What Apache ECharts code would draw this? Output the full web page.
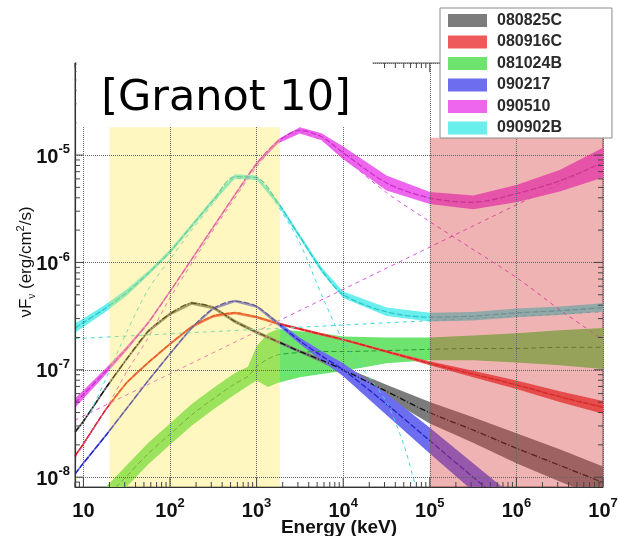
<!DOCTYPE html>
<html><head><meta charset="utf-8">
<script src="https://cdn.jsdelivr.net/npm/echarts@6/dist/echarts.min.js"></script>
<style>html,body{margin:0;padding:0;background:#fff}#c{width:618px;height:536px}</style>
</head><body><div id="c"></div>
<script>
// ---- Energy grid (keV) shared by most curves ----
const energy = [8, 10, 17.8, 31.6, 56.2, 100, 178, 316, 562, 1000, 1780, 3160, 5620, 1e4, 3.16e4, 1e5, 3.16e5, 1e6, 3.16e6, 1e7];

// 080825C (nuFnu, erg/cm^2/s)
const f080825C  = [2.63e-8, 3.31e-8, 6.61e-8, 1.26e-7, 2.29e-7, 3.31e-7, 4.17e-7, 3.80e-7, 2.82e-7, 2.24e-7, 1.82e-7, 1.48e-7, 1.23e-7, 1.00e-7, 6.31e-8, 3.98e-8, 2.75e-8, 1.86e-8, 1.29e-8, 8.91e-9];
const lo080825C = [2.54e-8, 3.20e-8, 6.39e-8, 1.22e-7, 2.21e-7, 3.20e-7, 4.03e-7, 3.67e-7, 2.72e-7, 2.16e-7, 1.76e-7, 1.43e-7, 1.17e-7, 9.33e-8, 5.50e-8, 3.16e-8, 2.09e-8, 1.35e-8, 9.12e-9, 6.31e-9];
const hi080825C = [2.72e-8, 3.43e-8, 6.84e-8, 1.30e-7, 2.37e-7, 3.43e-7, 4.32e-7, 3.93e-7, 2.92e-7, 2.32e-7, 1.88e-7, 1.53e-7, 1.29e-7, 1.07e-7, 7.24e-8, 5.01e-8, 3.62e-8, 2.57e-8, 1.82e-8, 1.26e-8];

// 080916C
const f080916C  = [1.58e-8, 2.04e-8, 4.17e-8, 7.59e-8, 1.17e-7, 1.74e-7, 2.51e-7, 3.16e-7, 3.39e-7, 3.09e-7, 2.69e-7, 2.40e-7, 2.14e-7, 1.91e-7, 1.48e-7, 1.15e-7, 9.12e-8, 7.24e-8, 5.62e-8, 4.47e-8];
const lo080916C = [1.54e-8, 1.98e-8, 4.06e-8, 7.38e-8, 1.14e-7, 1.69e-7, 2.44e-7, 3.07e-7, 3.30e-7, 3.01e-7, 2.62e-7, 2.33e-7, 2.08e-7, 1.86e-7, 1.44e-7, 1.10e-7, 8.51e-8, 6.61e-8, 5.01e-8, 3.89e-8];
const hi080916C = [1.62e-8, 2.10e-8, 4.29e-8, 7.80e-8, 1.20e-7, 1.79e-7, 2.58e-7, 3.25e-7, 3.48e-7, 3.18e-7, 2.77e-7, 2.47e-7, 2.20e-7, 1.96e-7, 1.52e-7, 1.20e-7, 9.78e-8, 7.94e-8, 6.31e-8, 5.13e-8];

// 081024B (own energy grid)
const e081024B  = [17.8, 31.6, 56.2, 100, 178, 316, 562, 794, 1000, 1350, 1780, 3160, 5620, 1e4, 3.16e4, 1e5, 3.16e5, 1e6, 3.16e6, 1e7];
const f081024B  = [6.31e-9, 1.02e-8, 1.66e-8, 2.51e-8, 3.80e-8, 5.37e-8, 7.41e-8, 8.71e-8, 1.07e-7, 1.26e-7, 1.38e-7, 1.45e-7, 1.48e-7, 1.48e-7, 1.51e-7, 1.55e-7, 1.58e-7, 1.58e-7, 1.62e-7, 1.62e-7];
const lo081024B = [5.01e-9, 8.13e-9, 1.32e-8, 2.00e-8, 3.02e-8, 4.27e-8, 5.89e-8, 7.08e-8, 7.94e-8, 6.92e-8, 7.59e-8, 8.51e-8, 9.12e-8, 9.77e-8, 1.15e-7, 1.23e-7, 1.23e-7, 1.17e-7, 1.10e-7, 1.02e-7];
const hi081024B = [7.94e-9, 1.29e-8, 2.09e-8, 3.16e-8, 4.79e-8, 6.76e-8, 9.33e-8, 1.07e-7, 1.66e-7, 2.19e-7, 2.40e-7, 2.29e-7, 2.19e-7, 2.04e-7, 2.00e-7, 2.00e-7, 2.09e-7, 2.19e-7, 2.34e-7, 2.45e-7];

// 090217
const f090217  = [1.07e-8, 1.35e-8, 2.40e-8, 4.37e-8, 7.94e-8, 1.41e-7, 2.45e-7, 3.72e-7, 4.37e-7, 3.89e-7, 2.69e-7, 1.86e-7, 1.35e-7, 1.00e-7, 4.79e-8, 2.19e-8, 1.00e-8, 4.68e-9, null, null];
const lo090217 = [1.04e-8, 1.31e-8, 2.33e-8, 4.25e-8, 7.72e-8, 1.37e-7, 2.38e-7, 3.62e-7, 4.25e-7, 3.78e-7, 2.57e-7, 1.74e-7, 1.22e-7, 8.71e-8, 3.80e-8, 1.66e-8, 7.41e-9, 3.47e-9, null, null];
const hi090217 = [1.10e-8, 1.39e-8, 2.47e-8, 4.49e-8, 8.16e-8, 1.45e-7, 2.52e-7, 3.82e-7, 4.49e-7, 4.00e-7, 2.82e-7, 1.99e-7, 1.50e-7, 1.15e-7, 6.03e-8, 2.88e-8, 1.35e-8, 6.31e-9, null, null];

// 090510
const f090510  = [4.90e-8, 5.89e-8, 9.55e-8, 1.58e-7, 2.75e-7, 5.37e-7, 1.07e-6, 2.14e-6, 4.27e-6, 8.32e-6, 1.35e-5, 1.70e-5, 1.48e-5, 1.05e-5, 5.50e-6, 3.98e-6, 3.63e-6, 4.37e-6, 5.75e-6, 8.51e-6];
const lo090510 = [4.42e-8, 5.37e-8, 8.91e-8, 1.51e-7, 2.68e-7, 5.22e-7, 1.04e-6, 2.08e-6, 4.15e-6, 8.04e-6, 1.29e-5, 1.59e-5, 1.37e-5, 9.12e-6, 4.68e-6, 3.51e-6, 3.13e-6, 3.64e-6, 4.57e-6, 6.17e-6];
const hi090510 = [5.43e-8, 6.46e-8, 1.02e-7, 1.65e-7, 2.83e-7, 5.52e-7, 1.10e-6, 2.20e-6, 4.39e-6, 8.61e-6, 1.41e-5, 1.82e-5, 1.60e-5, 1.20e-5, 6.46e-6, 4.52e-6, 4.21e-6, 5.25e-6, 7.24e-6, 1.17e-5];
const band090510 = [1.51e-8, 2.00e-8, 4.17e-8, 9.55e-8, 2.00e-7, 4.68e-7, 9.77e-7, 2.00e-6, 3.98e-6, 7.76e-6, 1.29e-5, 1.62e-5, 1.38e-5, 9.55e-6, 4.47e-6, 2.40e-6, 1.32e-6, 7.24e-7, 3.63e-7, 1.91e-7];
const plE090510 = [8, 1e7];
const pl090510  = [3.4e-8, 8.5e-6];

// 090902B
const f090902B  = [2.45e-7, 2.75e-7, 3.72e-7, 5.25e-7, 7.94e-7, 1.26e-6, 2.19e-6, 3.80e-6, 6.31e-6, 6.17e-6, 3.55e-6, 1.74e-6, 8.51e-7, 5.01e-7, 3.47e-7, 3.09e-7, 3.16e-7, 3.39e-7, 3.55e-7, 3.80e-7];
const lo090902B = [2.21e-7, 2.51e-7, 3.43e-7, 4.90e-7, 7.58e-7, 1.20e-6, 2.09e-6, 3.63e-6, 6.03e-6, 5.89e-6, 3.39e-6, 1.66e-6, 8.04e-7, 4.67e-7, 3.17e-7, 2.82e-7, 2.88e-7, 3.09e-7, 3.24e-7, 3.47e-7];
const hi090902B = [2.72e-7, 3.01e-7, 4.03e-7, 5.63e-7, 8.31e-7, 1.32e-6, 2.29e-6, 3.98e-6, 6.61e-6, 6.46e-6, 3.72e-6, 1.82e-6, 9.01e-7, 5.37e-7, 3.80e-7, 3.39e-7, 3.46e-7, 3.72e-7, 3.89e-7, 4.16e-7];
const bandE090902B = [12, 17.8, 31.6, 56.2, 100, 178, 316, 562, 1000, 1780, 3160, 5620, 1e4, 1.78e4, 3.16e4, 5.01e4, 6.46e4, 7.94e4];
const band090902B  = [3.98e-8, 7.94e-8, 2.24e-7, 5.62e-7, 1.07e-6, 2.00e-6, 3.55e-6, 6.03e-6, 5.89e-6, 3.31e-6, 1.51e-6, 5.01e-7, 1.86e-7, 9.55e-8, 5.01e-8, 2.00e-8, 9.77e-9, 5.01e-9];
const plE090902B = [8, 1e7];
const pl090902B  = [1.95e-7, 3.47e-7];

// shaded energy ranges [Emin, Emax, top nuFnu]
const gbmRange = [20, 1860, 1.82e-5];
const latRange = [1e5, 1e7, 1.45e-5];

// axis ticks and labels
const xDecades = [10, 100, 1e3, 1e4, 1e5, 1e6, 1e7];
const xTickLabels = ['{b|10}', '{b|10}{s|2}', '{b|10}{s|3}', '{b|10}{s|4}', '{b|10}{s|5}', '{b|10}{s|6}', '{b|10}{s|7}'];
const yDecades = [1e-8, 1e-7, 1e-6, 1e-5];
const yTickLabels = ['{b|10}{s|-8}', '{b|10}{s|-7}', '{b|10}{s|-6}', '{b|10}{s|-5}'];

const names = ['080825C', '080916C', '081024B', '090217', '090510', '090902B'];

// ---------------------------------------------------------------
const FONT = '"Liberation Sans", Arial, sans-serif';
const X_MIN = 8, X_MAX = 1e7, Y_MIN = 8.1e-9, Y_MAX = 7.2e-5;

function labelFor(v, decs, labels) {
  for (let i = 0; i < decs.length; i++) {
    if (Math.abs(v / decs[i] - 1) < 1e-6) return labels[i];
  }
  return '';
}

function bandSeries(name, E, lo, hi, color, z) {
  const rows = [];
  E.forEach((e, i) => { if (lo[i] != null && hi[i] != null) rows.push([e, lo[i], hi[i]]); });
  return {
    type: 'custom', name: name, coordinateSystem: 'cartesian2d', clip: true, z: z,
    itemStyle: { color: color },
    data: rows,
    encode: { x: 0, y: [1, 2] },
    silent: true,
    renderItem: function (params, api) {
      if (params.dataIndex !== 0) return null;
      const pts = [];
      for (let i = 0; i < rows.length; i++) pts.push(api.coord([rows[i][0], rows[i][2]]));
      for (let i = rows.length - 1; i >= 0; i--) pts.push(api.coord([rows[i][0], rows[i][1]]));
      return { type: 'polygon', shape: { points: pts }, style: { fill: color, stroke: null } };
    }
  };
}

function lineSeries(name, E, F, color, dash, width, z) {
  const d = [];
  E.forEach((e, i) => { if (F[i] != null) d.push([e, F[i]]); });
  return {
    type: 'line', name: name, data: d, symbol: 'none', smooth: 0.3, z: z,
    lineStyle: { color: color, width: width, type: dash }, silent: true
  };
}

const bandColors = { '080825C': '#7c7c7c', '080916C': '#ee5a5a', '081024B': '#6ee46e', '090217': '#6d6df0', '090510': '#ee66ee', '090902B': '#6aeeee' };

const series = [
  bandSeries('081024B', e081024B, lo081024B, hi081024B, bandColors['081024B'], 2),
  lineSeries('081024B line', e081024B, f081024B, '#2c9a2c', [5, 3], 1, 2),
  bandSeries('080825C', energy, lo080825C, hi080825C, bandColors['080825C'], 2),
  lineSeries('080825C line', energy, f080825C, '#111111', [6, 2, 1, 2], 1.3, 2),
  bandSeries('080916C', energy, lo080916C, hi080916C, bandColors['080916C'], 2),
  lineSeries('080916C line', energy, f080916C, '#d81e1e', [6, 1], 1.4, 2),
  bandSeries('090217', energy, lo090217, hi090217, bandColors['090217'], 2),
  lineSeries('090217 line', energy, f090217, '#2323c8', [6, 2], 1.3, 2),
  bandSeries('090510', energy, lo090510, hi090510, bandColors['090510'], 2),
  lineSeries('090510 line', energy, f090510, '#cc30cc', [6, 2], 1.3, 2),
  lineSeries('090510 band comp', energy, band090510, '#dd55dd', [4, 4], 1, 2),
  lineSeries('090510 PL', plE090510, pl090510, '#dd55dd', [4, 4], 1, 2),
  bandSeries('090902B', energy, lo090902B, hi090902B, bandColors['090902B'], 2),
  lineSeries('090902B line', energy, f090902B, '#2ec8c8', [6, 2], 1.3, 2),
  lineSeries('090902B band comp', bandE090902B, band090902B, '#44d8d8', [4, 4], 1, 2),
  lineSeries('090902B PL', plE090902B, pl090902B, '#44d8d8', [4, 4], 1, 2),
  {
    type: 'custom', name: 'ranges', coordinateSystem: 'cartesian2d', clip: true, z: 3, silent: true,
    data: [gbmRange, latRange],
    encode: { x: [0, 1], y: 2 },
    renderItem: function (params, api) {
      const cs = params.coordSys;
      const p1 = api.coord([api.value(0), api.value(2)]);
      const p2 = api.coord([api.value(1), api.value(2)]);
      const bottom = cs.y + cs.height;
      const fills = ['rgba(255,226,60,0.32)', 'rgba(215,55,55,0.38)'];
      return { type: 'rect', shape: { x: p1[0], y: p1[1], width: p2[0] - p1[0], height: bottom - p1[1] },
               style: { fill: fills[params.dataIndex] } };
    }
  },
  {
    type: 'custom', name: 'ticks', coordinateSystem: 'cartesian2d', clip: false, z: 5, silent: true,
    data: [[X_MIN, Y_MIN]],
    renderItem: function (params, api) {
      const cs = params.coordSys;
      const L = cs.x, R = cs.x + cs.width, T = cs.y, B = cs.y + cs.height;
      const kids = [];
      const st = { stroke: '#444', lineWidth: 1 };
      function addX(v, len) {
        const x = api.coord([v, Y_MIN])[0];
        if (x < L - 0.5 || x > R + 0.5) return;
        kids.push({ type: 'line', shape: { x1: x, y1: B, x2: x, y2: B - len }, style: st });
        kids.push({ type: 'line', shape: { x1: x, y1: T, x2: x, y2: T + len }, style: st });
      }
      function addY(v, len) {
        const y = api.coord([X_MIN, v])[1];
        if (y < T - 0.5 || y > B + 0.5) return;
        kids.push({ type: 'line', shape: { x1: L, y1: y, x2: L + len, y2: y }, style: st });
        kids.push({ type: 'line', shape: { x1: R, y1: y, x2: R - len, y2: y }, style: st });
      }
      for (let n = 0; n <= 7; n++) for (let k = 1; k <= 9; k++) addX(k * Math.pow(10, n), k === 1 ? 9 : 5);
      for (let n = -9; n <= -5; n++) for (let k = 1; k <= 9; k++) addY(k * Math.pow(10, n), k === 1 ? 9 : 5);
      return { type: 'group', children: kids };
    }
  }
];

const chart = echarts.init(document.getElementById('c'), null, { renderer: 'canvas' });
chart.setOption({
  animation: false,
  backgroundColor: '#ffffff',
  grid: { left: 75, right: 15, top: 63, bottom: 49, show: true, borderColor: '#555', borderWidth: 1,
          backgroundColor: 'transparent', containLabel: false, outerBoundsMode: 'none' },
  xAxis: {
    type: 'log', logBase: 10, min: X_MIN, max: X_MAX, z: 4,
    axisLine: { show: true, lineStyle: { color: '#333', width: 1.2 } },
    axisTick: { show: false },
    splitLine: { show: true, lineStyle: { type: 'dotted', color: '#666', width: 1 } },
    axisLabel: {
      margin: 10, formatter: v => labelFor(v, xDecades, xTickLabels),
      rich: {
        b: { fontSize: 20, fontWeight: 'bold', fontFamily: FONT, color: '#111', lineHeight: 24, verticalAlign: 'bottom' },
        s: { fontSize: 13, fontWeight: 'bold', fontFamily: FONT, color: '#111', lineHeight: 13, verticalAlign: 'top' }
      }
    },
    name: 'Energy (keV)', nameLocation: 'middle', nameGap: 31, nameMoveOverlap: false,
    nameTextStyle: { fontSize: 19, fontWeight: 'bold', fontFamily: FONT, color: '#111' }
  },
  yAxis: {
    type: 'log', logBase: 10, min: Y_MIN, max: Y_MAX, z: 4,
    axisLine: { show: true, lineStyle: { color: '#333', width: 1.2 } },
    axisTick: { show: false },
    splitLine: { show: true, lineStyle: { type: 'dotted', color: '#666', width: 1 } },
    axisLabel: {
      margin: 5, formatter: v => labelFor(v, yDecades, yTickLabels),
      rich: {
        b: { fontSize: 20, fontWeight: 'bold', fontFamily: FONT, color: '#111', lineHeight: 24, verticalAlign: 'bottom' },
        s: { fontSize: 13, fontWeight: 'bold', fontFamily: FONT, color: '#111', lineHeight: 13, verticalAlign: 'top' }
      }
    }
  },
  legend: {
    data: names, orient: 'vertical', left: 440, top: 8, icon: 'rect',
    itemWidth: 39, itemHeight: 13, itemGap: 5.5,
    padding: [4.5, 50, 2, 8], backgroundColor: '#ffffff', borderColor: '#8a8a8a', borderWidth: 1,
    selectedMode: false, z: 30,
    textStyle: { fontSize: 16, fontWeight: 'bold', fontFamily: FONT, color: '#2a2a2a', padding: [0, 0, 0, 5] }
  },
  graphic: [
    { type: 'rect', z: 20, shape: { x: 76.5, y: 30, width: 296, height: 97 }, style: { fill: '#ffffff' } },
    { type: 'text', z: 21, x: 226, y: 99,
      style: { text: '[Granot 10]', font: '43px "DejaVu Sans"', fill: '#000', align: 'center', verticalAlign: 'middle' } },
    { type: 'text', z: 21, x: 26, y: 262, rotation: Math.PI / 2,
      style: {
        text: '{a|νF}{sub|ν}{a| (erg/cm}{sup|2}{a|/s)}', align: 'center', verticalAlign: 'middle',
        rich: {
          a: { fontSize: 17, fontFamily: FONT, fill: '#111', lineHeight: 22 },
          sub: { fontSize: 10, fontFamily: FONT, fill: '#111', lineHeight: 12, verticalAlign: 'bottom' },
          sup: { fontSize: 11, fontFamily: FONT, fill: '#111', lineHeight: 12, verticalAlign: 'top' }
        }
      } }
  ],
  series: series
});
</script></body></html>
